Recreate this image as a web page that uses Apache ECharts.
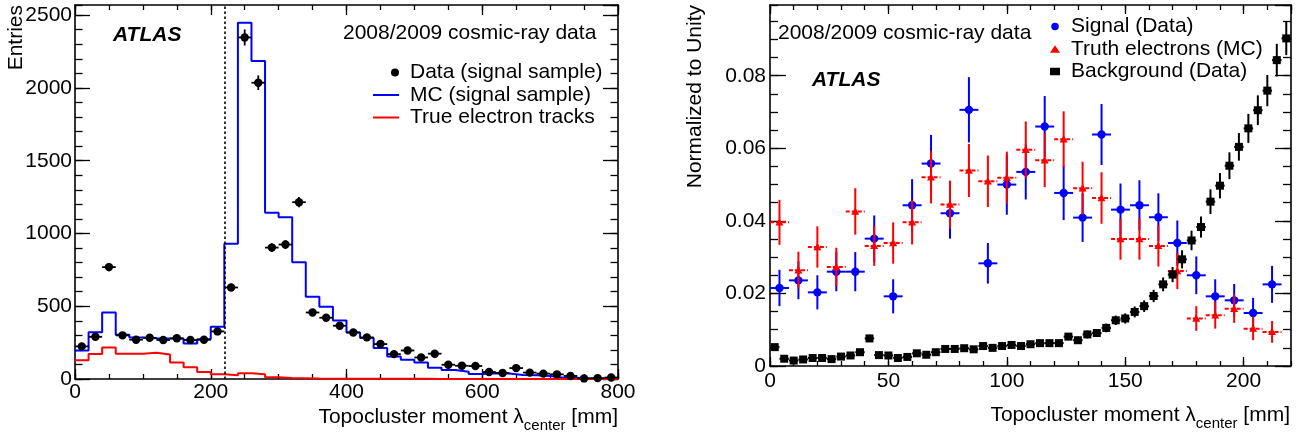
<!DOCTYPE html>
<html>
<head>
<meta charset="utf-8">
<script src="https://cdn.jsdelivr.net/npm/echarts@6/dist/echarts.min.js"></script>
<style>html,body{margin:0;padding:0;background:#fff}#c{width:1308px;height:436px}</style>
</head>
<body>
<div id="c"></div>
<script>
// ---------------- Left panel data ----------------
const leftEdges = [0,20,40,60,80,100,120,140,160,180,200,220,240,260,280,300,320,340,360,380,400,420,440,460,480,500,520,540,560,580,600,620,640,660,680,700,720,740,760,780,800];
const leftCenters = [10,30,50,70,90,110,130,150,170,190,210,230,250,270,290,310,330,350,370,390,410,430,450,470,490,510,530,550,570,590,610,630,650,670,690,710,730,750,770,790];
const dataSignal = [224,290,769,300,270,283,268,280,268,270,327,629,2347,2036,903,924,1215,457,421,366,320,286,240,171,196,148,174,98,91,89,48,41,75,44,37,32,21,4,6,10];
const dataSignalErr = [15,17,28,17,16,17,16,17,16,16,18,25,55,50,30,30,35,21,21,19,18,17,15,13,14,12,13,10,10,9,7,6,9,7,6,6,5,2,2,3];
const mcSignal = [196,322,457,304,286,280,278,277,244,274,359,929,2448,2185,1142,1112,803,565,496,402,320,281,213,155,132,114,78,62,50,34,39,37,28,25,21,9,9,3,2,2];
const trueElectrons = [128,171,217,174,174,180,169,114,80,48,32,25,39,32,12,7,5,3,2,2,1,1,1,1,1,1,0,0,0,0,0,0,0,0,0,0,0,0,0,0];
const cutValue = 220;

// ---------------- Right panel data ----------------
const sigCenters = [4,12,20,28,36,44,52,60,68,76,84,92,100,108,116,124,132,140,148,156,164,172,180,188,196,204,212];
const signalValues = [0.0215,0.0236,0.0203,0.0260,0.0260,0.0351,0.0192,0.0443,0.0558,0.0421,0.0706,0.0283,0.0500,0.0535,0.0660,0.0477,0.0409,0.0638,0.0431,0.0443,0.0410,0.0339,0.0250,0.0192,0.0181,0.0146,0.0225];
const signalErrors = [0.0050,0.0052,0.0047,0.0054,0.0054,0.0064,0.0047,0.0072,0.0079,0.0070,0.0090,0.0056,0.0083,0.0076,0.0084,0.0075,0.0067,0.0084,0.0072,0.0069,0.0066,0.0062,0.0052,0.0047,0.0045,0.0042,0.0051];
const truthValues = [0.0396,0.0264,0.0328,0.0273,0.0426,0.0331,0.0339,0.0396,0.0520,0.0445,0.0539,0.0509,0.0519,0.0596,0.0567,0.0625,0.0490,0.0463,0.0350,0.0350,0.0331,0.0262,0.0131,0.0140,0.0158,0.0103,0.0094];
const truthErrors = [0.0062,0.0051,0.0057,0.0053,0.0064,0.0055,0.0057,0.0061,0.0072,0.0066,0.0073,0.0071,0.0072,0.0078,0.0074,0.0077,0.0073,0.0071,0.0057,0.0057,0.0057,0.0050,0.0034,0.0037,0.0039,0.0032,0.0030];
const bkgCenters = [2,6,10,14,18,22,26,30,34,38,42,46,50,54,58,62,66,70,74,78,82,86,90,94,98,102,106,110,114,118,122,126,130,134,138,142,146,150,154,158,162,166,170,174,178,182,186,190,194,198,202,206,210,214,218];
const bkgValues = [0.0052,0.0020,0.0015,0.0018,0.0022,0.0022,0.0019,0.0026,0.0029,0.0038,0.0076,0.0030,0.0029,0.0022,0.0025,0.0035,0.0031,0.0038,0.0047,0.0047,0.0049,0.0046,0.0055,0.0050,0.0055,0.0058,0.0055,0.0060,0.0063,0.0063,0.0063,0.0081,0.0071,0.0087,0.0091,0.0105,0.0126,0.0131,0.0149,0.0165,0.0193,0.0225,0.0252,0.0294,0.0346,0.0383,0.0453,0.0497,0.0552,0.0604,0.0655,0.0705,0.0759,0.0843,0.0903];
const bkgErrors = [0.0008,0.0005,0.0005,0.0005,0.0005,0.0005,0.0005,0.0006,0.0006,0.0007,0.0010,0.0006,0.0006,0.0005,0.0006,0.0007,0.0006,0.0007,0.0008,0.0008,0.0008,0.0008,0.0008,0.0008,0.0008,0.0009,0.0008,0.0009,0.0009,0.0009,0.0009,0.0010,0.0010,0.0011,0.0011,0.0012,0.0013,0.0014,0.0015,0.0016,0.0017,0.0019,0.0021,0.0025,0.0027,0.0029,0.0034,0.0035,0.0037,0.0038,0.0040,0.0041,0.0043,0.0045,0.0046];

// ---------------- helpers ----------------
const FONT = '"Liberation Sans", Arial, Helvetica, sans-serif';
const fmtInt = v => String(Math.round(v));
const fmtFrac = v => (v === 0 ? '0' : v.toFixed(2));

function axisPair(grid, pos, min, max, major, minor, lenMaj, lenMin, label) {
  const common = {type: 'value', gridIndex: grid, position: pos, min: min, max: max, silent: true,
    splitLine: {show: false}, axisPointer: {show: false}};
  const maj = Object.assign({}, common, {
    interval: major,
    axisLine: {show: true, onZero: false, lineStyle: {color: '#000', width: 1.6}},
    axisTick: {show: true, inside: true, length: lenMaj, lineStyle: {color: '#000', width: 1.3}},
    axisLabel: label ? Object.assign({show: true, color: '#000', fontFamily: FONT, fontSize: 21}, label) : {show: false}
  });
  const mnr = Object.assign({}, common, {
    interval: minor,
    axisLine: {show: false, onZero: false},
    axisTick: {show: true, inside: true, length: lenMin, lineStyle: {color: '#000', width: 1.3}},
    axisLabel: {show: false}
  });
  return [maj, mnr];
}

function errRender(o) {
  return function (params, api) {
    const x = api.value(0), y = api.value(1), e = api.value(2);
    const c = api.coord([x, y]);
    const t = api.coord([x, y + e]);
    const b = api.coord([x, y - e]);
    const l = api.coord([x - o.hw, y]);
    const r = api.coord([x + o.hw, y]);
    const s = o.size;
    let marker;
    if (o.shape === 'circle') {
      marker = {type: 'circle', shape: {cx: c[0], cy: c[1], r: s}, style: {fill: o.color}};
    } else if (o.shape === 'rect') {
      marker = {type: 'rect', shape: {x: c[0] - s, y: c[1] - s, width: 2 * s, height: 2 * s}, style: {fill: o.color}};
    } else {
      marker = {type: 'polygon', shape: {points: [[c[0], c[1] - s * 1.05], [c[0] - s, c[1] + s * 0.8], [c[0] + s, c[1] + s * 0.8]]}, style: {fill: o.color}};
    }
    return {type: 'group', children: [
      {type: 'line', shape: {x1: c[0], y1: t[1], x2: c[0], y2: b[1]}, style: {stroke: o.color, lineWidth: o.lw}},
      {type: 'line', shape: {x1: l[0], y1: c[1], x2: r[0], y2: c[1]}, style: {stroke: o.color, lineWidth: o.lw, lineDash: o.dash || null}},
      marker
    ]};
  };
}

const xAxes = [].concat(
  axisPair(0, 'bottom', 0, 800, 200, 50, 10, 5, {margin: 3, formatter: fmtInt}),
  axisPair(0, 'top', 0, 800, 200, 50, 10, 5, null),
  axisPair(1, 'bottom', 0, 220, 50, 10, 9, 5, {margin: 5, formatter: fmtInt, showMaxLabel: false}),
  axisPair(1, 'top', 0, 220, 50, 10, 9, 5, null)
);
const yAxes = [].concat(
  axisPair(0, 'left', 0, 2570, 500, 100, 15, 7.5, {margin: 3, formatter: fmtInt, showMaxLabel: false}),
  axisPair(0, 'right', 0, 2570, 500, 100, 15, 7.5, null),
  axisPair(1, 'left', 0, 0.0995, 0.02, 0.005, 16, 8, {margin: 4, formatter: fmtFrac, showMaxLabel: false}),
  axisPair(1, 'right', 0, 0.0995, 0.02, 0.005, 16, 8, null)
);

const mcLine = leftEdges.map((x, i) => [x, mcSignal[Math.min(i, mcSignal.length - 1)]]);
const trueLine = leftEdges.map((x, i) => [x, trueElectrons[Math.min(i, trueElectrons.length - 1)]]);

const txt = (x, y, text, extra) => ({type: 'text', x: x, y: y, silent: true,
  style: Object.assign({text: text, fill: '#000', fontFamily: FONT, fontSize: 21, align: 'left', verticalAlign: 'middle'}, extra || {})});
const vtxt = (x, y, text) => Object.assign(txt(x, y, text, {align: 'right'}), {rotation: Math.PI / 2});

const xTitleStyle = {
  align: 'right', verticalAlign: 'middle', lineHeight: 32,
  rich: {sub: {fontFamily: FONT, fontSize: 15, fill: '#000', verticalAlign: 'bottom', lineHeight: 15}}
};

// legend icons: a thin bar for histogram lines, a dot at the right of the icon cell for data
const lineIcon = 'path://M0,0 L26,0 L26,2 L0,2 Z';
const dotRightIcon = 'path://M0,4 L0.02,4 L0.02,4.02 Z M18,4 A4,4 0 1,1 26,4 A4,4 0 1,1 18,4 Z';

const option = {
  animation: false,
  backgroundColor: '#fff',
  textStyle: {fontFamily: FONT},
  grid: [
    {left: 75, top: 5, width: 543, height: 374, outerBoundsMode: 'none', containLabel: false},
    {left: 770, top: 5, width: 521, height: 361, outerBoundsMode: 'none', containLabel: false}
  ],
  xAxis: xAxes,
  yAxis: yAxes,
  legend: [
    {left: 373, top: 61.5, orient: 'vertical', padding: 0, itemWidth: 26, itemHeight: 8, itemGap: 0.5,
      selectedMode: false,
      textStyle: {fontFamily: FONT, fontSize: 21, color: '#000', lineHeight: 22, padding: [0, 0, 0, 6]},
      data: [
        {name: 'Data (signal sample)', icon: dotRightIcon, itemStyle: {color: '#000'}},
        {name: 'MC (signal sample)', icon: lineIcon, itemStyle: {color: '#0000ff'}},
        {name: 'True electron tracks', icon: lineIcon, itemStyle: {color: '#ff0000'}}
      ]},
    {left: 1050, top: 15.5, orient: 'vertical', padding: 0, itemWidth: 10, itemHeight: 7.5, itemGap: 0.5,
      selectedMode: false,
      textStyle: {fontFamily: FONT, fontSize: 21, color: '#000', lineHeight: 22, padding: [0, 0, 0, 6]},
      data: [{name: 'Signal (Data)', icon: 'circle'}, {name: 'Truth electrons (MC)', icon: 'triangle'}, {name: 'Background (Data)', icon: 'rect'}]}
  ],
  graphic: [
    txt(113, 35, 'ATLAS', {fontWeight: 'bold', fontStyle: 'italic'}),
    txt(343, 33, '2008/2009 cosmic-ray data'),
    vtxt(16, 5, 'Entries'),
    txt(618, 417, 'Topocluster moment λ{sub|center} [mm]', xTitleStyle),
    txt(812, 80, 'ATLAS', {fontWeight: 'bold', fontStyle: 'italic'}),
    txt(778, 33, '2008/2009 cosmic-ray data'),
    vtxt(695, 5, 'Normalized to Unity'),
    txt(1290, 415, 'Topocluster moment λ{sub|center} [mm]', xTitleStyle)
  ],
  series: [
    {type: 'line', name: 'MC (signal sample)', xAxisIndex: 0, yAxisIndex: 0, step: 'end', data: mcLine,
      symbol: 'none', showSymbol: false, lineStyle: {color: '#0000ff', width: 2}, itemStyle: {color: '#0000ff'}, z: 3,
      markLine: {silent: true, symbol: ['none', 'none'], label: {show: false},
        lineStyle: {color: '#000', width: 1.6, type: [2.5, 2.5]}, data: [{xAxis: cutValue}]}},
    {type: 'line', name: 'True electron tracks', xAxisIndex: 0, yAxisIndex: 0, step: 'end', data: trueLine,
      symbol: 'none', showSymbol: false, lineStyle: {color: '#ff0000', width: 2}, itemStyle: {color: '#ff0000'}, z: 3},
    {type: 'custom', name: 'Data (signal sample)', xAxisIndex: 0, yAxisIndex: 0, z: 5,
      itemStyle: {color: '#000'},
      renderItem: errRender({hw: 10, color: '#000', lw: 1.8, shape: 'circle', size: 4.2}),
      data: leftCenters.map((x, i) => [x, dataSignal[i], dataSignalErr[i]])},
    {type: 'custom', name: 'Signal (Data)', xAxisIndex: 4, yAxisIndex: 4, z: 4,
      itemStyle: {color: '#0000ff'},
      renderItem: errRender({hw: 4, color: '#0000ff', lw: 2, shape: 'circle', size: 4.2}),
      data: sigCenters.map((x, i) => [x, signalValues[i], signalErrors[i]])},
    {type: 'custom', name: 'Truth electrons (MC)', xAxisIndex: 4, yAxisIndex: 4, z: 5,
      itemStyle: {color: '#ff0000'},
      renderItem: errRender({hw: 4, color: '#ff0000', lw: 2, shape: 'triangle', size: 4, dash: [4, 2]}),
      data: sigCenters.map((x, i) => [x, truthValues[i], truthErrors[i]])},
    {type: 'custom', name: 'Background (Data)', xAxisIndex: 4, yAxisIndex: 4, z: 6,
      itemStyle: {color: '#000'},
      renderItem: errRender({hw: 2, color: '#000', lw: 2, shape: 'rect', size: 4}),
      data: bkgCenters.map((x, i) => [x, bkgValues[i], bkgErrors[i]])}
  ]
};

const chart = echarts.init(document.getElementById('c'), null, {renderer: 'canvas'});
chart.setOption(option);
</script>
</body>
</html>
